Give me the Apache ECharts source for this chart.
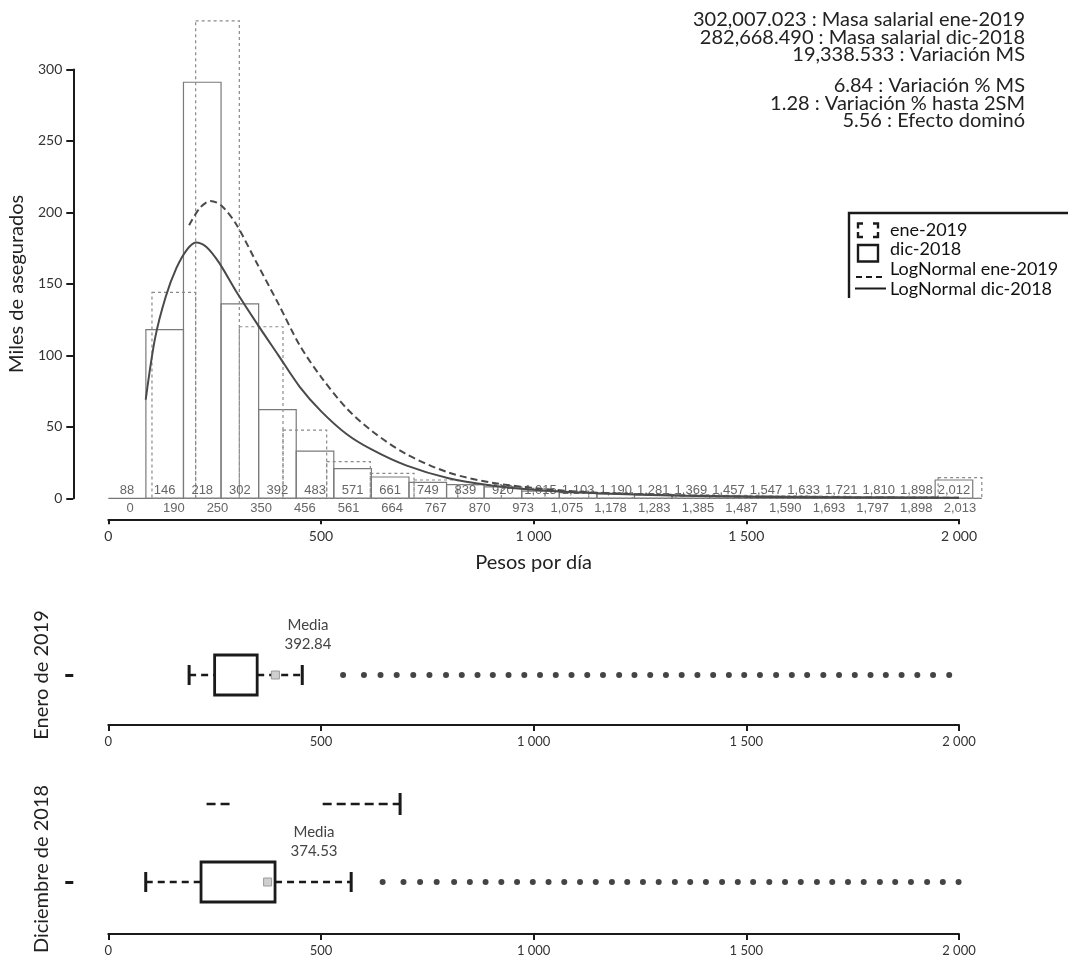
<!DOCTYPE html>
<html>
<head>
<meta charset="utf-8">
<script src="https://cdn.jsdelivr.net/npm/echarts@6/dist/echarts.min.js"></script>
<style>html,body{margin:0;padding:0;background:#fff}#c{width:1073px;height:966px}</style>
</head>
<body>
<div id="c"></div>
<script>
// ---- data ----
const SM_DIC = 88.36;   // bin width dic-2018 (salario mínimo)
const SM_ENE = 102.68;  // bin width ene-2019 (salario mínimo)
const dicCounts = [0,118,291,136,62,33,20.7,14.9,11.2,9.5,8,5,4,3,2.5,2,1.8,1.5,1.3,1.1,1,0.9,12.8];
const eneCounts = [0,144,334,120,47.7,25.6,17.5,12.8,9.5,7,5,4,3,2.5,2,1.7,1.4,1.2,1.0,14.4];
const dicLabels = ['88','146','218','302','392','483','571','661','749','839','920','1,015','1,103','1,190','1,281','1,369','1,457','1,547','1,633','1,721','1,810','1,898','2,012'];
const eneLabels = ['0','190','250','350','456','561','664','767','870','973','1,075','1,178','1,283','1,385','1,487','1,590','1,693','1,797','1,898','2,013'];
const dicCurveX = [88,110,135,160,185,206,230,260,300,350,400,450,500,560,620,700,800,900,1000,1100,1200,1350,1500,1750,2000];
const dicCurveY = [69,112,141,161,174,179,176,165,145,122,100,78,61,45,34,23,14,9,6,4.2,3,1.8,1.1,0.55,0.3];
const eneCurveX = [190,215,240,265,300,350,400,450,500,560,620,700,800,900,1000,1100,1200,1350,1500,1750,2000];
const eneCurveY = [191,203,208,205,192,164,136,107,85,63,47,31,18,11,7.2,4.8,3.3,2,1.2,0.6,0.35];
const eneBox = [190,250,350,456];   // whisker low, Q1, Q3, whisker high
const eneMean = 392.84;
const dicBox = [88,218,392,571];
const dicMean = 374.53;
const dicUpperSegs = [[231,286],[504,686]];
const eneOutliers = [552,601,640,678,717,755,794,831,868,904,941,978,1015,1052,1089,1126,1163,1201,1237,1274,1311,1348,1385,1422,1459,1495,1532,1570,1607,1643,1681,1718,1755,1792,1828,1865,1902,1939,1977];
const dicOutliers = [645,694,733,772,813,850,887,924,961,998,1035,1072,1109,1146,1184,1220,1257,1294,1332,1368,1405,1443,1480,1516,1554,1591,1628,1666,1702,1739,1776,1814,1850,1887,1925,1962,1999];
const statsText1 = ['302,007.023 : Masa salarial ene-2019','282,668.490 : Masa salarial dic-2018','19,338.533 : Variación MS'];
const statsText2 = ['6.84 : Variación % MS','1.28 : Variación % hasta 2SM','5.56 : Efecto dominó'];

// ---- helpers ----
const FONT = 'Lato';
const INK = '#1a1a1a';
function fmtThousands(v){ return v >= 1000 ? String(v).replace(/\B(?=(\d{3})+(?!\d))/g,' ') : String(v); }

function barRender(dashed){
  return function(params, api){
    const v = api.value(2);
    if (!v) return null;
    const p0 = api.coord([api.value(0), v]);
    const p1 = api.coord([api.value(1), 0]);
    return {type:'rect', shape:{x:p0[0], y:p0[1], width:p1[0]-p0[0], height:p1[1]-p0[1]},
      style:{fill:'none', stroke: dashed ? '#8a8a8a' : '#7a7a7a', lineWidth: 1.2, lineDash: dashed ? [3,3] : null}};
  };
}
function labelRender(labels, dy){
  return function(params, api){
    const p = api.coord([api.value(0), 0]);
    return {type:'text', x:p[0], y:p[1]+dy,
      style:{text: labels[params.dataIndex], align:'center', verticalAlign:'middle', font:'13px "Liberation Sans", Arial, sans-serif', fill:'#666'}};
  };
}
function boxRender(labelDx){
  return function(params, api){
    const row = api.value(5);
    const pl = api.coord([api.value(0), row]);
    const p1 = api.coord([api.value(1), row]);
    const p3 = api.coord([api.value(2), row]);
    const ph = api.coord([api.value(3), row]);
    const pm = api.coord([api.value(4), row]);
    const y = pl[1];
    const dashStyle = {stroke: INK, lineWidth: 2.6, lineDash:[7,5]};
    const capStyle = {stroke: INK, lineWidth: 3};
    return {type:'group', children:[
      {type:'line', shape:{x1:pl[0], y1:y, x2:p1[0], y2:y}, style:dashStyle},
      {type:'line', shape:{x1:p3[0], y1:y, x2:ph[0], y2:y}, style:dashStyle},
      {type:'line', shape:{x1:pl[0], y1:y-10, x2:pl[0], y2:y+10}, style:capStyle},
      {type:'line', shape:{x1:ph[0], y1:y-10, x2:ph[0], y2:y+10}, style:capStyle},
      {type:'rect', shape:{x:p1[0], y:y-20, width:p3[0]-p1[0], height:40}, style:{fill:'#fff', stroke:INK, lineWidth:2.8}},
      {type:'rect', shape:{x:pm[0]-4, y:y-4, width:8, height:8}, style:{fill:'#cfcfcf', stroke:'#9a9a9a', lineWidth:1}},
      {type:'text', x:pm[0]+labelDx, y:y-40.5, style:{text:'Media\n' + api.value(4).toFixed(2), align:'center', verticalAlign:'middle', font:'15px ' + FONT, fill:'#444', lineHeight:18.5}}
    ]};
  };
}
function segRender(params, api){
  const row = api.value(2);
  const a = api.coord([api.value(0), row]);
  const b = api.coord([api.value(1), row]);
  const ch = [{type:'line', shape:{x1:a[0], y1:a[1], x2:b[0], y2:b[1]}, style:{stroke:INK, lineWidth:2.6, lineDash:[9,5]}}];
  if (params.dataIndex === dicUpperSegs.length - 1) {
    ch.push({type:'line', shape:{x1:b[0], y1:b[1]-11, x2:b[0], y2:b[1]+11}, style:{stroke:INK, lineWidth:3}});
  }
  return {type:'group', children: ch};
}

function boxXAxis(gridIndex){
  return {gridIndex, type:'value', min:0, max:2000, interval:500,
    axisLine:{show:true, onZero:false, lineStyle:{color:INK, width:2}},
    axisTick:{show:true, length:6, lineStyle:{color:INK, width:2}},
    axisLabel:{fontFamily:FONT, fontSize:13, color:'#333', margin:10, formatter: fmtThousands},
    splitLine:{show:false}};
}
function boxYAxis(gridIndex, max, name){
  return {gridIndex, type:'value', min:0, max, offset:35,
    axisLine:{show:false, onZero:false},
    axisTick:{show:true, customValues:[2], length:8, lineStyle:{color:INK, width:3}},
    axisLabel:{show:false}, splitLine:{show:false},
    name, nameLocation:'middle', nameRotate:90, nameGap:22,
    nameTextStyle:{fontFamily:FONT, fontSize:20, color:'#222'}};
}

const legendY = [230, 249.5, 269, 289];
const legendNames = ['ene-2019','dic-2018','LogNormal ene-2019','LogNormal dic-2018'];
const cornerStyle = {stroke:INK, lineWidth:2.4, fill:'none'};
const graphics = [
  {type:'text', x:1025, y:11, style:{text: statsText1.join('\n'), align:'right', verticalAlign:'top', font:'20px ' + FONT, fill:'#222', lineHeight:17.5}},
  {type:'text', x:1025, y:77, style:{text: statsText2.join('\n'), align:'right', verticalAlign:'top', font:'20px ' + FONT, fill:'#222', lineHeight:17.5}},
  {type:'polyline', shape:{points:[[1068,213],[849,213],[849,298]]}, style:{stroke:INK, lineWidth:2.4, fill:'none'}},
  {type:'polyline', shape:{points:[[858,228.5],[858,223.5],[863,223.5]]}, style:cornerStyle},
  {type:'polyline', shape:{points:[[873,223.5],[878,223.5],[878,228.5]]}, style:cornerStyle},
  {type:'polyline', shape:{points:[[858,232],[858,237],[863,237]]}, style:cornerStyle},
  {type:'polyline', shape:{points:[[873,237],[878,237],[878,232]]}, style:cornerStyle},
  {type:'rect', shape:{x:858, y:245, width:20, height:16.5}, style:{stroke:INK, lineWidth:2.4, fill:'none'}},
  {type:'line', shape:{x1:856, y1:277, x2:884, y2:277}, style:{stroke:INK, lineWidth:1.8, lineDash:[6,4]}},
  {type:'line', shape:{x1:855, y1:288.5, x2:886, y2:288.5}, style:{stroke:INK, lineWidth:2}}
];
legendNames.forEach((n,i)=>{
  graphics.push({type:'text', x:890, y:legendY[i], style:{text:n, align:'left', verticalAlign:'middle', font:'18px ' + FONT, fill:'#111'}});
});

const option = {
  backgroundColor:'#fff',
  animation:false,
  grid:[
    {left:108.3, width:850.7, top:69.4, height:428.9, outerBoundsMode:'none'},
    {left:108.3, width:850.7, top:625, height:100, outerBoundsMode:'none'},
    {left:108.3, width:850.7, top:804, height:130, outerBoundsMode:'none'}
  ],
  xAxis:[
    {gridIndex:0, type:'value', min:0, max:2000, interval:500, offset:21,
      axisLine:{show:true, onZero:false, lineStyle:{color:INK, width:2}},
      axisTick:{show:true, length:5, lineStyle:{color:INK, width:2}},
      axisLabel:{fontFamily:FONT, fontSize:14, color:'#333', margin:10, formatter: fmtThousands},
      splitLine:{show:false},
      name:'Pesos por día', nameLocation:'middle', nameGap:33,
      nameTextStyle:{fontFamily:FONT, fontSize:20, color:'#222'}},
    boxXAxis(1), boxXAxis(2)
  ],
  yAxis:[
    {gridIndex:0, type:'value', min:0, max:300, interval:50, offset:35,
      axisLine:{show:true, onZero:false, lineStyle:{color:INK, width:2}},
      axisTick:{show:true, length:7, lineStyle:{color:INK, width:2}},
      axisLabel:{fontFamily:FONT, fontSize:14, color:'#333', margin:11},
      splitLine:{show:false},
      name:'Miles de asegurados', nameLocation:'middle', nameRotate:90, nameGap:45,
      nameTextStyle:{fontFamily:FONT, fontSize:20, color:'#222'}},
    boxYAxis(1, 4, 'Enero de 2019'),
    boxYAxis(2, 5, 'Diciembre de 2018')
  ],
  graphic: graphics,
  series:[
    {name:'dic-2018', type:'custom', xAxisIndex:0, yAxisIndex:0, z:2, renderItem: barRender(false),
      data: dicCounts.map((v,k)=>[k*SM_DIC,(k+1)*SM_DIC,v])},
    {name:'ene-2019', type:'custom', xAxisIndex:0, yAxisIndex:0, z:2, renderItem: barRender(true),
      data: eneCounts.map((v,k)=>[k*SM_ENE,(k+1)*SM_ENE,v])},
    {name:'baseline', type:'custom', xAxisIndex:0, yAxisIndex:0, z:1,
      renderItem:function(params, api){
        const a = api.coord([api.value(0),0]), b = api.coord([api.value(1),0]);
        return {type:'line', shape:{x1:a[0],y1:a[1],x2:b[0],y2:b[1]}, style:{stroke:'#777', lineWidth:1.2}};
      },
      data:[[0, eneCounts.length*SM_ENE]]},
    {name:'dic labels', type:'custom', xAxisIndex:0, yAxisIndex:0, z:3, renderItem: labelRender(dicLabels, -7.5),
      data: dicLabels.map((t,k)=>[(k+0.5)*SM_DIC, 0])},
    {name:'ene labels', type:'custom', xAxisIndex:0, yAxisIndex:0, z:3, renderItem: labelRender(eneLabels, 10.5),
      data: eneLabels.map((t,k)=>[(k+0.5)*SM_ENE, 0])},
    {name:'LogNormal ene-2019', type:'line', xAxisIndex:0, yAxisIndex:0, z:5, smooth:0.3, showSymbol:false,
      lineStyle:{color:'#4a4a4a', width:2, type:[7,4]}, data: eneCurveX.map((x,i)=>[x, eneCurveY[i]])},
    {name:'LogNormal dic-2018', type:'line', xAxisIndex:0, yAxisIndex:0, z:5, smooth:0.3, showSymbol:false,
      lineStyle:{color:'#4a4a4a', width:2}, data: dicCurveX.map((x,i)=>[x, dicCurveY[i]])},
    {name:'Box ene', type:'custom', xAxisIndex:1, yAxisIndex:1, z:3, renderItem: boxRender(32.6),
      data:[[...eneBox, eneMean, 2]]},
    {name:'Outliers ene', type:'scatter', xAxisIndex:1, yAxisIndex:1, symbolSize:6, itemStyle:{color:'#151515'},
      data: eneOutliers.map(v=>[v,2])},
    {name:'Box dic', type:'custom', xAxisIndex:2, yAxisIndex:2, z:3, renderItem: boxRender(46.4),
      data:[[...dicBox, dicMean, 2]]},
    {name:'Upper dic', type:'custom', xAxisIndex:2, yAxisIndex:2, z:3, renderItem: segRender,
      data: dicUpperSegs.map(s=>[s[0], s[1], 5])},
    {name:'Outliers dic', type:'scatter', xAxisIndex:2, yAxisIndex:2, symbolSize:6, itemStyle:{color:'#151515'},
      data: dicOutliers.map(v=>[v,2])}
  ]
};
const chart = echarts.init(document.getElementById('c'), null, {renderer:'canvas', width:1073, height:966});
chart.setOption(option);
</script>
</body>
</html>
